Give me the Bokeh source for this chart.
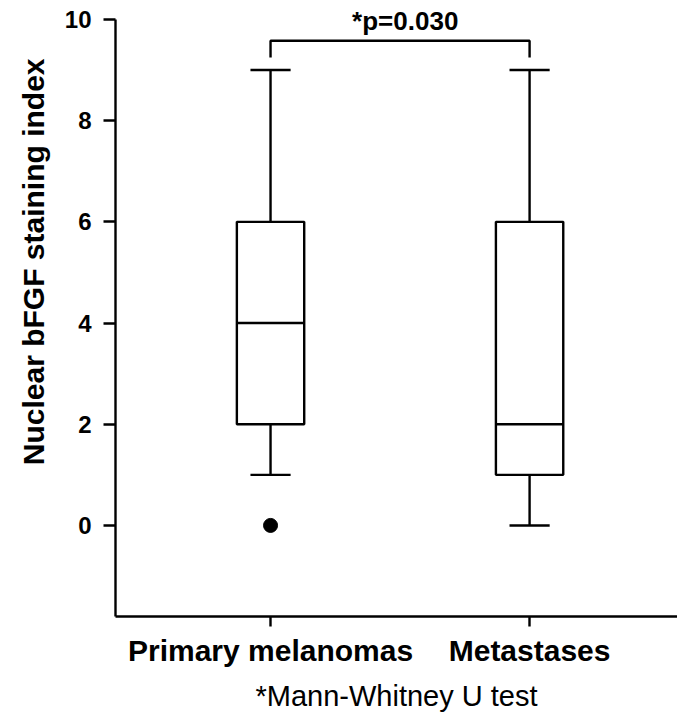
from bokeh.plotting import figure
from bokeh.models import FixedTicker, Range1d, Title
from bokeh.core.properties import value
from bokeh.embed import file_html
from bokeh.resources import INLINE

# ---- data ----
groups = ["Primary melanomas", "Metastases"]
group_x = [1, 2]
whisker_low = [1, 0]
q1 = [2, 1]
median = [4, 2]
q3 = [6, 6]
whisker_high = [9, 9]
outlier_x = [1]
outlier_y = [0]
y_ticks = [0, 2, 4, 6, 8, 10]
pval_text = "*p=0.030"
bracket_x = [1, 1, 2, 2]
bracket_y = [9.25, 9.58, 9.58, 9.25]
pval_x = 1.52
pval_y = 9.96
y_label = "Nuclear bFGF staining index"
x_label = "*Mann-Whitney U test"

box_w = 0.26
cap_w = 0.155
FONT = "Liberation Sans"
LW = 2.4

p = figure(width=677, height=716, output_backend="svg", toolbar_location=None,
           x_range=Range1d(0.4015, 2.571), y_range=Range1d(-1.80, 10.375),
           min_border_left=115, min_border_right=0, min_border_top=0, min_border_bottom=100)
p.outline_line_color = None
p.xgrid.grid_line_color = None
p.ygrid.grid_line_color = None
p.background_fill_color = "white"
p.border_fill_color = "white"

# boxes
p.vbar(x=group_x, top=q3, bottom=q1, width=box_w, fill_color="white",
       line_color="black", line_width=LW)
# medians
p.segment(x0=[x - box_w / 2 for x in group_x], x1=[x + box_w / 2 for x in group_x],
          y0=median, y1=median, line_color="black", line_width=LW)
# whiskers
p.segment(x0=group_x, x1=group_x, y0=q3, y1=whisker_high, line_color="black", line_width=LW)
p.segment(x0=group_x, x1=group_x, y0=q1, y1=whisker_low, line_color="black", line_width=LW)
# caps
p.segment(x0=[x - cap_w / 2 for x in group_x], x1=[x + cap_w / 2 for x in group_x],
          y0=whisker_high, y1=whisker_high, line_color="black", line_width=LW)
p.segment(x0=[x - cap_w / 2 for x in group_x], x1=[x + cap_w / 2 for x in group_x],
          y0=whisker_low, y1=whisker_low, line_color="black", line_width=LW)
# outlier
p.scatter(x=outlier_x, y=outlier_y, size=14, color="black")

# significance bracket
p.line(x=bracket_x, y=bracket_y, line_color="black", line_width=LW)
p.text(x=[pval_x], y=[pval_y], text=[pval_text], text_align="center", text_baseline="middle",
       text_font=value(FONT), text_font_style="bold", text_font_size="26px", text_color="black")

# y axis
ya = p.yaxis[0]
ya.ticker = FixedTicker(ticks=y_ticks)
ya.bounds = (-1.80, 10)
ya.minor_tick_line_color = None
ya.major_tick_in = 0
ya.major_tick_out = 12
ya.major_tick_line_width = LW
ya.axis_line_width = LW
ya.major_label_text_font = FONT
ya.major_label_text_font_style = "bold"
ya.major_label_text_font_size = "24px"
ya.major_label_text_color = "black"
ya.major_label_standoff = 12

p.add_layout(Title(text=y_label, align="right", offset=58, standoff=24,
                   text_font=FONT, text_font_style="bold",
                   text_font_size="30px", text_color="black"), "left")

# x axis
xa = p.xaxis[0]
xa.ticker = FixedTicker(ticks=group_x)
xa.major_label_overrides = {x: g for x, g in zip(group_x, groups)}
xa.minor_tick_line_color = None
xa.major_tick_in = 0
xa.major_tick_out = 10
xa.major_tick_line_width = LW
xa.axis_line_width = LW
xa.major_label_text_font = FONT
xa.major_label_text_font_style = "bold"
xa.major_label_text_font_size = "30px"
xa.major_label_text_color = "black"
xa.major_label_standoff = 7
xa.axis_label = x_label
xa.axis_label_text_font = FONT
xa.axis_label_text_font_style = "normal"
xa.axis_label_text_font_size = "29px"
xa.axis_label_text_color = "black"
xa.axis_label_standoff = 10

open("out.html", "w").write(file_html(p, INLINE))
